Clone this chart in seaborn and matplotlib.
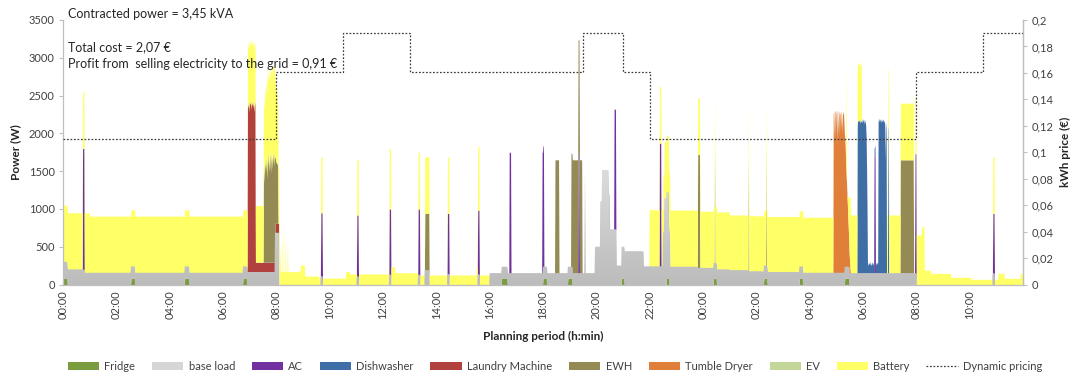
import numpy as np
import matplotlib
matplotlib.use("Agg")
import matplotlib.pyplot as plt
import seaborn as sns
from matplotlib.patches import Patch
from matplotlib.lines import Line2D
from matplotlib.colors import LinearSegmentedColormap

# ---------------------------------------------------------------------------
# Household schedule over a 36 h planning period (time in hours, power in W)
# ---------------------------------------------------------------------------
HORIZON_H = 36

tick_hours = list(range(0, 36, 2))
tick_labels = ["00:00", "02:00", "04:00", "06:00", "08:00", "10:00", "12:00",
               "14:00", "16:00", "18:00", "20:00", "22:00", "00:00", "02:00",
               "04:00", "06:00", "08:00", "10:00"]

# fridge compressor cycles
fridge_start = [0.0, 2.55, 4.57, 6.75, 16.45, 18.0, 18.94, 20.95, 22.63, 24.4, 26.28, 27.62, 29.32]
fridge_end = [0.17, 2.7, 4.73, 6.9, 16.67, 18.15, 19.1, 21.05, 22.73, 24.52, 26.42, 27.75, 29.48]
fridge_w = 85

# base load, piecewise constant
base_breaks = [0, 0.17, 0.8, 6.9, 7.95, 8.1, 16.0, 19.95, 20.15, 20.22, 20.45, 20.5, 20.75,
               20.95, 21.07, 21.76, 22.5, 22.55, 22.72, 22.77, 23.8, 24.4, 25.0, 25.7, 26.25,
               27.6, 29.32, 32.0, 36]
base_watts = [215, 200, 155, 165, 685, 0, 150, 500, 1100, 1515, 1200, 730, 250,
              415, 440, 240, 700, 1140, 700, 235, 220, 200, 190, 175, 165,
              155, 150, 0]
# (start h, minutes, W)
base_spikes = [(9.66, 4, 110), (11.01, 4, 110), (12.24, 4, 130), (13.32, 4, 130),
               (13.57, 10, 190), (14.42, 4, 140), (15.55, 4, 135), (19.57, 1, 1510),
               (34.86, 4, 150)]

# air conditioning switch-ons (start h, minutes, W)
ac_events = [(0.74, 4, 1600), (9.66, 4, 840), (11.01, 4, 810), (12.24, 4, 870),
             (13.32, 4, 870), (14.42, 4, 800), (15.55, 4, 850), (16.74, 4, 1600),
             (17.96, 4, 1600), (19.32, 3, 1590), (20.66, 4, 1590), (22.36, 4, 1630),
             (30.41, 3, 1550), (31.95, 3, 1580), (34.86, 4, 790)]

# dishwasher cycle, minute by minute
dish_start = 29.78
dish_cycle = [1950, 2050, 2000, 2030, 2010, 2040, 1980, 2050, 2000, 2020, 2040, 1990,
              2030, 2000, 2050, 2010, 1980, 2030, 2000, 1950, 1800, 1400, 900,
              150, 120, 100, 140, 130, 110, 160, 120, 100, 130, 150, 120, 110, 140,
              130, 100, 120, 150, 130, 110, 140, 120, 150, 130,
              2000, 2050, 2030, 2000, 2040, 2020, 1990, 2050, 2010, 2030, 2000, 2040,
              2020, 1990, 2030, 1950, 1500, 2000, 1900,
              0, 0, 0, 1950, 1900]

# laundry machine
laundry_breaks = [0, 6.91, 7.22, 7.95, 8.1, 36]
laundry_watts = [0, 2200, 130, 125, 0]
laundry_start = 6.91
laundry_cycle = [2150, 2250, 2180, 2280, 2120, 2250, 2220, 2280, 2150, 2260, 2200, 2250,
                 2180, 2270, 2230, 2120, 2260, 2200]

# electric water heater
ewh_events = [(13.57, 10, 750), (18.45, 9, 1500), (19.05, 25, 1500), (23.8, 5, 1500),
              (24.44, 1, 1500), (25.7, 1, 1500), (26.36, 1, 1500), (31.4, 30, 1500)]
ewh_morning_start = 7.51
ewh_morning = [1150, 1300, 1050, 1350, 1250, 1420, 1200, 1380, 1100, 1450, 1280, 1470,
               1330, 1200, 1450, 1380, 1180, 1480, 1330, 1420, 1230, 1480, 1390, 1280,
               1460, 1370, 900, 850, 800, 820, 780, 800, 750]

# tumble dryer, minute by minute
dryer_start = 28.88
dryer_cycle = [2100, 2150, 1750, 2150, 2120, 1800, 2150, 2100, 1700, 2150, 2130, 1850,
               2100, 2150, 1800, 2130, 2100, 1900, 2150, 2080, 1850, 2120, 2100, 2140,
               2000, 1850, 1700, 1550, 1400, 1250, 1100, 950, 800, 650, 500, 350, 250, 150, 60]

# battery charging power
battery_breaks = [0, 0.8, 1.0, 6.91, 7.22, 7.51, 8.07, 8.12, 8.5, 8.9,
                  9.07, 9.6, 10.6, 10.75, 12.25, 12.45, 13.3, 15.5, 15.6, 16.0,
                  21.98, 24.5, 25.0, 25.7, 28.88, 29.53, 29.78, 29.95, 30.9, 31.4,
                  31.9, 32.0, 32.2, 32.3, 32.55, 33.3, 34.05, 35.06, 35.3, 35.9, 36]
battery_watts = [750, 795, 750, 800, 750, 1000, 750, 170, 170, 258,
                 112, 85, 170, 140, 235, 156, 126, 235, 126, 0,
                 750, 760, 730, 735, 0, 770, 750, 0, 770, 750,
                 0, 655, 765, 190, 148, 95, 68, 148, 82, 148]
battery_spikes = [(8.14, 1, 600), (8.24, 1, 780), (8.33, 1, 700), (8.41, 1, 620),
                  (9.66, 4, 740), (11.01, 4, 736), (12.24, 4, 800), (13.32, 4, 750),
                  (13.57, 10, 750), (14.42, 4, 750), (15.55, 4, 840), (31.95, 3, 750),
                  (34.86, 4, 750)]
battery_morning = [850, 900, 950, 920, 1000, 980, 1050, 1080, 1050, 1150, 1100, 1080,
                   1150, 1200, 1100, 1150, 1250, 1120, 1200, 1150, 1250, 1150, 1200, 1250,
                   1150, 1200, 1000, 1000, 950, 1000, 950, 900, 800]
battery_dryer_start = 29.285
battery_dryer_tail = [0, 0, 0, 0, 0, 1515, 0, 0, 125, 275, 425, 575, 760, 860, 950]

# dynamic tariff (EUR / kWh), step after each change time
price_hours = [0, 8, 10.5, 13, 19.5, 21, 22, 32, 34.5, 36]
price_eur = [0.11, 0.161, 0.19, 0.161, 0.19, 0.161, 0.11, 0.161, 0.19, 0.19]

series_names = ["Fridge", "base load", "AC", "Dishwasher", "Laundry Machine", "EWH",
                "Tumble Dryer", "EV", "Battery"]
series_colors = ["#7a9c3e", "#c0c0c0", "#7030a0", "#3f6ea6", "#b0413e", "#948a54",
                 "#e07f3a", "#c4d79b", "#ffff66"]

# ---------------------------------------------------------------------------
# Minute-resolution series
# ---------------------------------------------------------------------------
minutes = np.arange(HORIZON_H * 60 + 1)
hours = minutes / 60.0


def idx(h):
    return int(round(h * 60))


def piecewise(breaks, watts):
    s = np.zeros(len(minutes))
    for a, b, w in zip(breaks[:-1], breaks[1:], watts):
        s[idx(a):idx(b)] = w
    s[-1] = s[-2]
    return s


def set_events(s, events):
    for h, dur, w in events:
        s[idx(h):idx(h) + dur] = w
    return s


def set_profile(s, start_h, values):
    i = idx(start_h)
    s[i:i + len(values)] = values
    return s


fridge = np.zeros(len(minutes))
for a, b in zip(fridge_start, fridge_end):
    fridge[idx(a):idx(b)] = fridge_w

base = set_events(piecewise(base_breaks, base_watts), base_spikes)
ac = set_events(np.zeros(len(minutes)), ac_events)
dish = set_profile(np.zeros(len(minutes)), dish_start, dish_cycle)
laundry = set_profile(piecewise(laundry_breaks, laundry_watts), laundry_start, laundry_cycle)
ewh = set_profile(set_events(np.zeros(len(minutes)), ewh_events), ewh_morning_start, ewh_morning)
dryer = set_profile(np.zeros(len(minutes)), dryer_start, dryer_cycle)
ev = np.zeros(len(minutes))
battery = piecewise(battery_breaks, battery_watts)
battery = set_events(battery, battery_spikes)
battery = set_profile(battery, ewh_morning_start, battery_morning)
battery = set_profile(battery, battery_dryer_start, battery_dryer_tail)

stack = [fridge, base, ac, dish, laundry, ewh, dryer, ev, battery]

# ---------------------------------------------------------------------------
# Figure
# ---------------------------------------------------------------------------
sns.set_theme(style="white")
plt.rcParams["font.family"] = ["Lato", "DejaVu Sans"]

fig = plt.figure(figsize=(10.77, 3.80), dpi=100)
ax = fig.add_axes([63 / 1077, 1 - 284.5 / 380, 960 / 1077, 264.5 / 380])

polys = ax.stackplot(hours, *stack, colors=series_colors, linewidth=0, antialiased=True)

# vertical shading of the base-load area
grad = LinearSegmentedColormap.from_list("baseload", ["#bcbcbc", "#f2f2f2"])
img = ax.imshow(np.linspace(0, 1, 256).reshape(-1, 1), cmap=grad, origin="lower",
                extent=[0, HORIZON_H, 0, 3500 * 0.75], aspect="auto", zorder=1.05,
                interpolation="bilinear")
img.set_clip_path(polys[1].get_paths()[0], transform=ax.transData)

ax.set_xlim(0, HORIZON_H)
ax.set_ylim(0, 3500)
ax.set_yticks(range(0, 3501, 500))
ax.set_xticks(tick_hours)
ax.set_xticklabels(tick_labels, rotation=90)

spine_c = "#bfbfbf"
txt_c = "#404040"
ax.spines["top"].set_visible(False)
for side in ["left", "bottom", "right"]:
    ax.spines[side].set_color(spine_c)
    ax.spines[side].set_linewidth(0.9)
ax.tick_params(axis="y", direction="out", length=3, width=0.8, color=spine_c,
               labelsize=8, labelcolor=txt_c, pad=3, left=True)
ax.tick_params(axis="x", length=0, labelsize=8, labelcolor=txt_c, pad=4)

ax.set_ylabel("Power (W)", fontsize=8.5, fontweight="bold", color="#262626")
ax.yaxis.set_label_coords(-0.044, 0.5)
ax.set_xlabel("Planning period (h:min)", fontsize=8.5, fontweight="bold", color="#262626")
ax.xaxis.set_label_coords(0.5, -0.176)

# tariff on the secondary axis
ax2 = ax.twinx()
sns.lineplot(x=price_hours, y=price_eur, ax=ax2, drawstyle="steps-post",
             color="#3c3c3c", linewidth=0.9, linestyle=(0, (1.4, 1.4)), legend=False)
ax2.set_ylim(0, 0.2)
ax2.set_xlim(0, HORIZON_H)
ax2.set_yticks(np.round(np.arange(0, 0.2001, 0.02), 2))
ax2.set_yticklabels([(f"{v:.2f}".rstrip("0").rstrip(".")).replace(".", ",")
                     for v in np.arange(0, 0.2001, 0.02)])
for side in ["top", "left", "bottom"]:
    ax2.spines[side].set_visible(False)
ax2.spines["right"].set_color(spine_c)
ax2.spines["right"].set_linewidth(0.9)
ax2.tick_params(axis="y", direction="out", length=3, width=0.8, color=spine_c,
                labelsize=8, labelcolor=txt_c, pad=3, right=True)
ax2.set_ylabel("kWh price (€)", fontsize=8.5, fontweight="bold", color="#262626")
ax2.yaxis.set_label_coords(1.039, 0.5)

# annotations
note_kw = dict(fontsize=9, color="#262626", va="center")
fig.text(68 / 1077, 1 - 14 / 380, "Contracted power = 3,45 kVA", **note_kw)
fig.text(68 / 1077, 1 - 47 / 380, "Total cost = 2,07 €", **note_kw)
fig.text(68 / 1077, 1 - 64 / 380, "Profit from  selling electricity to the grid = 0,91 €", **note_kw)

# legend
handles = [Patch(facecolor=c, edgecolor="none") for c in series_colors]
handles[1] = Patch(facecolor="#d6d6d6", edgecolor="none")
handles.append(Line2D([0], [0], color="#3c3c3c", linewidth=0.9, linestyle=(0, (1.4, 1.4))))
labels = series_names + ["Dynamic pricing"]
fig.legend(handles, labels, ncol=10, loc="center", bbox_to_anchor=(555 / 1077, 1 - 366 / 380),
           frameon=False, fontsize=8, handlelength=2.8, handleheight=0.7,
           handletextpad=0.5, columnspacing=1.5, labelcolor=txt_c)

fig.savefig("out.png", dpi=100)
